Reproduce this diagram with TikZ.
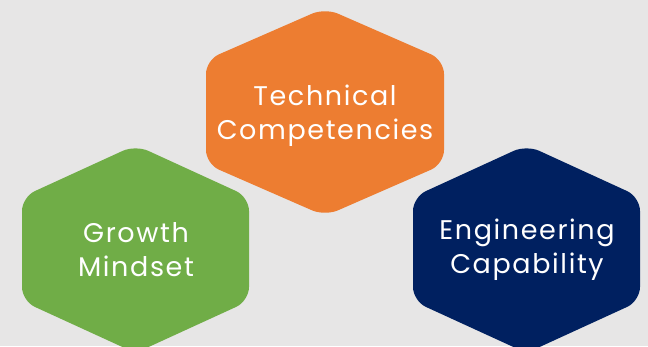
\documentclass[tikz,border=0pt]{standalone}
\usepackage{fontspec}
\setmainfont{Poppins}[LetterSpace=6]
\definecolor{bgc}{HTML}{E7E6E6}
\definecolor{orng}{HTML}{ED7D31}
\definecolor{grn}{HTML}{70AD47}
\definecolor{navy}{HTML}{002060}
\tikzset{
  hexlabel/.style={text=white, align=center, font=\fontsize{27}{34}\selectfont, inner sep=0pt},
  hexfill/.style={rounded corners=14pt}
}
\newcommand\myhex[4]{% cx, cy, half-width, color
  \fill[hexfill,#4] (#1,#2-104) -- (#1+#3,#2-52) -- (#1+#3,#2+52) -- (#1,#2+104) -- (#1-#3,#2+52) -- (#1-#3,#2-52) -- cycle;
}
\begin{document}
\begin{tikzpicture}[x=1pt,y=-1pt]
\fill[bgc] (0,0) rectangle (648,346);
\useasboundingbox (0,0) rectangle (648,346);
\myhex{325}{112}{119}{orng}
\myhex{135.5}{249}{113.5}{grn}
\myhex{526.5}{249}{113.5}{navy}
\node[hexlabel] (tc) at (325,115.5) {Technical\\Competencies};
\node[hexlabel] (gm) at (136,249.5) {Growth\\Mindset};
\node[hexlabel] (ec) at (527,250) {Engineering\\Capability};
\end{tikzpicture}
\end{document}
